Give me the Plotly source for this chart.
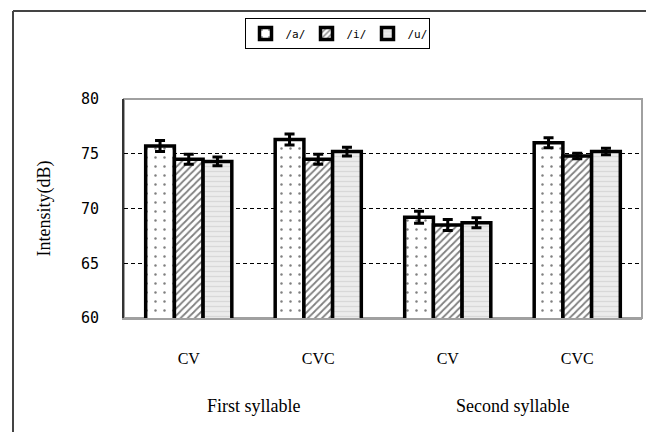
import plotly.graph_objects as go

categories = ["CV", "CVC", "CV ", "CVC "]
tick_labels = ["CV", "CVC", "CV", "CVC"]
group_labels = ["First syllable", "Second syllable"]
series_names = ["/a/", "/i/", "/u/"]
vals_a = [75.7, 76.3, 69.2, 76.0]
vals_i = [74.5, 74.5, 68.5, 74.8]
vals_u = [74.3, 75.2, 68.7, 75.2]
err_a = [0.5, 0.5, 0.55, 0.45]
err_i = [0.45, 0.45, 0.5, 0.25]
err_u = [0.4, 0.4, 0.45, 0.3]

# page body has an 8px margin, so the figure is drawn 8px smaller and all
# target pixel positions are shifted by -8
OFF = 8
W, H = 654 - OFF, 432 - OFF
L, T = 124 - OFF, 99 - OFF
R, B = W - (642 - OFF), H - (318 - OFF)
pw, ph = W - L - R, H - T - B
SERIF = "Liberation Serif, Times New Roman, serif"

styles = [
    dict(shape=".", bgcolor="white", fgcolor="black", size=9, solidity=0.06),
    dict(shape="/", bgcolor="white", fgcolor="black", size=5, solidity=0.35),
    dict(shape="-", bgcolor="#ececec", fgcolor="#c4c4c4", size=5, solidity=0.25),
]

fig = go.Figure()
for name, vals, errs, st in zip(series_names, [vals_a, vals_i, vals_u], [err_a, err_i, err_u], styles):
    fig.add_trace(go.Bar(
        x=categories, y=vals, name=name,
        marker=dict(color=st["bgcolor"], line=dict(color="black", width=3.5),
                    pattern=dict(shape=st["shape"], bgcolor=st["bgcolor"], fgcolor=st["fgcolor"],
                                 size=st["size"], solidity=st["solidity"], fillmode="overlay")),
        error_y=dict(type="data", array=errs, visible=True, color="black", thickness=3, width=5),
    ))

fig.update_layout(
    width=W, height=H,
    margin=dict(l=L, r=R, t=T, b=B, autoexpand=False),
    paper_bgcolor="white", plot_bgcolor="white",
    barmode="group", bargap=0.335, bargroupgap=0,
    legend=dict(orientation="h", xref="container", yref="container",
                x=(337 - OFF) / W, xanchor="center", y=1 - (18 - OFF) / H, yanchor="top",
                bordercolor="black", borderwidth=1, bgcolor="white",
                font=dict(family="DejaVu Sans Mono", size=11, color="black"),
                itemwidth=30, entrywidth=16, tracegroupgap=0),
    xaxis=dict(tickvals=categories, ticktext=tick_labels, showgrid=False, automargin=False,
               showline=True, linecolor="#a0a0a0", linewidth=2,
               tickfont=dict(family=SERIF, size=16, color="black"),
               ticklabelstandoff=25),
    yaxis=dict(range=[60, 80], tickvals=[60, 65, 70, 75, 80], automargin=False,
               showgrid=True, gridcolor="black", gridwidth=1, griddash="4px,3px",
               showline=True, linecolor="#333333", linewidth=2, zeroline=False,
               tickfont=dict(family="DejaVu Sans Mono", size=15, color="black"),
               ticklabelstandoff=20,
               title=dict(text="Intensity(dB)", standoff=26,
                          font=dict(family=SERIF, size=18, color="black"))),
    showlegend=True,
)

# plot-area frame (top/right in gray)
fig.add_shape(type="rect", xref="paper", yref="paper", x0=0, x1=1, y0=0, y1=1,
              line=dict(color="#a0a0a0", width=2), layer="below")
# outer chart frame: left and top edges (right and bottom fall outside the picture)
fig.add_shape(type="line", xref="paper", yref="paper",
              x0=(13 - 124) / pw, x1=(13 - 124) / pw,
              y0=(318 - 440) / ph, y1=(318 - 11) / ph,
              line=dict(color="#444444", width=2), layer="below")
fig.add_shape(type="line", xref="paper", yref="paper",
              x0=(13 - 124) / pw, x1=(660 - 124) / pw,
              y0=(318 - 11) / ph, y1=(318 - 11) / ph,
              line=dict(color="#444444", width=2), layer="below")

for i, g in enumerate(group_labels):
    fig.add_annotation(x=2 * i + 0.5, y=(318 - 406) / ph, xref="x", yref="paper",
                       text=g, showarrow=False, yanchor="middle",
                       font=dict(family=SERIF, size=18, color="black"))

fig.write_html("out.html")
